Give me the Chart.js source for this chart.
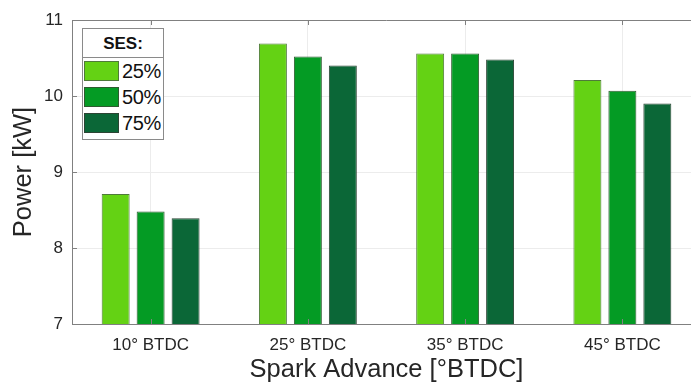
<!DOCTYPE html>
<html>
<head>
<meta charset="utf-8">
<script src="https://cdn.jsdelivr.net/npm/chart.js@4/dist/chart.umd.min.js"></script>
<style>
  html, body { margin: 0; padding: 0; background: #fff; overflow: hidden; }
  #wrap { position: relative; width: 702px; height: 385px; }
  #legend {
    position: absolute; left: 82px; top: 28px; width: 80px;
    border: 1px solid #8a8a8a; background: #fff;
    font-family: "Liberation Sans", Arial, sans-serif; color: #111;
  }
  #legend .title {
    height: 28px; line-height: 29px; text-align: center;
    font-weight: bold; font-size: 17px; border-bottom: 1px solid #8a8a8a;
  }
  #legend .row { display: flex; align-items: center; height: 26px; }
  #legend .row:first-of-type { margin-top: 3px; }
  #legend .sw { width: 33px; height: 18px; margin-left: 1px; margin-right: 3px; border: 1px solid #555; }
  #legend .lbl { font-size: 20px; letter-spacing: -0.4px; }
  #legend .pad { height: 3px; }
</style>
</head>
<body>
<div id="wrap">
  <canvas id="c" width="702" height="385"></canvas>
  <div id="legend"></div>
</div>
<script>
// Power output per spark advance setting, grouped by SES level
const categories = ['10° BTDC', '25° BTDC', '35° BTDC', '45° BTDC'];
const seriesLabels = ['25%', '50%', '75%'];
const ses25 = [8.71, 10.69, 10.56, 10.21];
const ses50 = [8.48, 10.52, 10.56, 10.07];
const ses75 = [8.39, 10.40, 10.48, 9.90];
const legendTitle = 'SES:';
const xTitle = 'Spark Advance [°BTDC]';
const yTitle = 'Power [kW]';

const fills = ['#64d214', '#049b24', '#0b6737'];
const edges = ['#4f7a3a', '#2f5a30', '#2c4434'];
const seriesData = [ses25, ses50, ses75];

const FONT = '"Liberation Sans", Arial, sans-serif';
const TEXT = '#262626';
const AXIS = '#808080';

// MATLAB-style inward tick marks on all four sides of the box
const inwardTicks = {
  id: 'inwardTicks',
  afterDatasetsDraw(chart) {
    const { ctx, chartArea: a, scales: { x, y } } = chart;
    const len = 5;
    ctx.save();
    ctx.strokeStyle = AXIS;
    ctx.lineWidth = 1;
    ctx.beginPath();
    y.ticks.forEach(t => {
      const py = Math.round(y.getPixelForValue(t.value)) + 0.5;
      ctx.moveTo(a.left, py); ctx.lineTo(a.left + len, py);
      ctx.moveTo(a.right, py); ctx.lineTo(a.right - len, py);
    });
    categories.forEach((c, i) => {
      const px = Math.round(x.getPixelForValue(i)) + 0.5;
      ctx.moveTo(px, a.bottom); ctx.lineTo(px, a.bottom - len);
      ctx.moveTo(px, a.top); ctx.lineTo(px, a.top + len);
    });
    ctx.stroke();
    // top edge of the axes box
    ctx.beginPath();
    ctx.moveTo(a.left, Math.round(a.top) + 0.5);
    ctx.lineTo(a.right, Math.round(a.top) + 0.5);
    ctx.stroke();
    ctx.restore();
  }
};

const chart = new Chart(document.getElementById('c'), {
  type: 'bar',
  data: {
    labels: categories,
    datasets: seriesData.map((d, i) => ({
      label: seriesLabels[i],
      data: d,
      backgroundColor: fills[i],
      borderColor: edges[i],
      borderWidth: 1,
      categoryPercentage: 0.667,
      barPercentage: 0.8
    }))
  },
  options: {
    responsive: false,
    animation: false,
    layout: { padding: { top: 20, left: 0, right: 1, bottom: 0 } },
    plugins: { legend: { display: false }, tooltip: { enabled: false } },
    scales: {
      x: {
        grid: { offset: false, color: '#ececec', drawTicks: false },
        border: { color: AXIS, width: 1 },
        ticks: { color: TEXT, font: { family: FONT, size: 17 }, padding: 11, maxRotation: 0 },
        title: { display: true, text: xTitle, color: TEXT, font: { family: FONT, size: 25.5 }, padding: { top: 0, bottom: 0 } },
        afterFit(s) { s.height = 61; }
      },
      y: {
        min: 7, max: 11,
        grid: { color: '#ececec', drawTicks: false },
        border: { color: AXIS, width: 1 },
        ticks: { stepSize: 1, color: TEXT, font: { family: FONT, size: 17 }, padding: 9 },
        title: { display: true, text: yTitle, color: TEXT, font: { family: FONT, size: 25.5 }, padding: { top: 9, bottom: 0 } },
        afterFit(s) { s.width = 72; }
      }
    }
  },
  plugins: [inwardTicks]
});

// Legend box built from the chart's datasets
const legend = document.getElementById('legend');
const t = document.createElement('div');
t.className = 'title';
t.textContent = legendTitle;
legend.appendChild(t);
chart.data.datasets.forEach(ds => {
  const row = document.createElement('div');
  row.className = 'row';
  const sw = document.createElement('span');
  sw.className = 'sw';
  sw.style.background = ds.backgroundColor;
  sw.style.borderColor = ds.borderColor;
  const lbl = document.createElement('span');
  lbl.className = 'lbl';
  lbl.textContent = ds.label;
  row.appendChild(sw); row.appendChild(lbl);
  legend.appendChild(row);
});
const pad = document.createElement('div');
pad.className = 'pad';
legend.appendChild(pad);
</script>
</body>
</html>
